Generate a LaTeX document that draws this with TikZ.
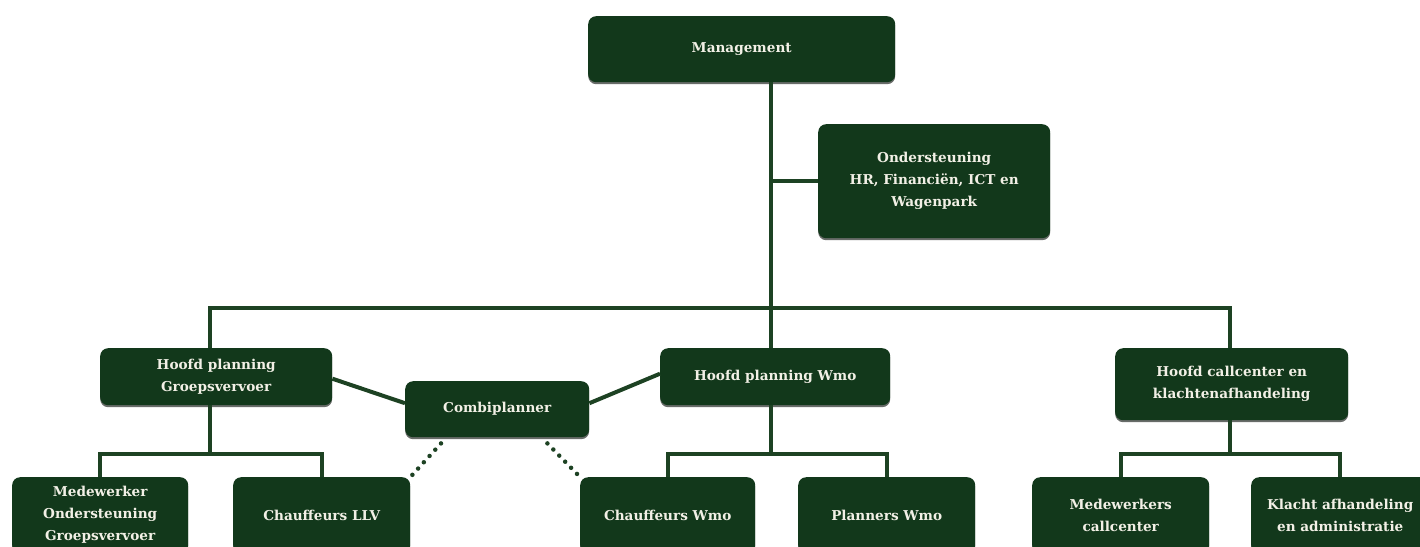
\documentclass[tikz,border=0pt]{standalone}
\usepackage{fontspec}
\setmainfont{DejaVu Serif}
\usetikzlibrary{shadows}
\definecolor{boxgreen}{HTML}{12381B}
\definecolor{linegreen}{HTML}{1D4223}
\definecolor{txt}{HTML}{F2F0E6}
\begin{document}
\begin{tikzpicture}[x=1pt,y=-1pt,
  box/.style={rounded corners=8pt, fill=boxgreen, text=txt,
    font=\bfseries\fontsize{13.6}{22}\selectfont, align=center, inner sep=0pt,
    anchor=north west,
    drop shadow={shadow xshift=0pt, shadow yshift=-2pt, opacity=0.6, fill=black!80!boxgreen}},
  link/.style={draw=linegreen, line width=4pt},
  dots/.style={draw=linegreen, line width=4.5pt, line cap=round, dash pattern=on 0pt off 8.5pt}]
\fill[white] (0,0) rectangle (1420,546);
\useasboundingbox (0,0) rectangle (1420,546);
\clip (0,0) rectangle (1420,546);

% junction coordinates
\coordinate (j0) at (771,308);
\coordinate (jl) at (210,308);
\coordinate (jr) at (1230,308);
\coordinate (sl) at (210,454);
\coordinate (sm) at (771,454);
\coordinate (sr) at (1230,454);

% nodes
\node[box, minimum width=307pt, minimum height=66pt] (mgmt) at (588,16) {Management};
\node[box, minimum width=232pt, minimum height=114pt] (ond) at (818,124) {Ondersteuning\\HR, Financiën, ICT en\\Wagenpark};
\node[box, minimum width=232pt, minimum height=57pt] (hpg) at (100,348) {Hoofd planning\\Groepsvervoer};
\node[box, minimum width=184pt, minimum height=56pt] (comb) at (405,381) {Combiplanner};
\node[box, minimum width=230pt, minimum height=57pt] (hwmo) at (660,348) {Hoofd planning Wmo};
\node[box, minimum width=233pt, minimum height=72pt] (hcc) at (1115,348) {Hoofd callcenter en\\klachtenafhandeling};
\node[box, minimum width=176pt, minimum height=76pt] (med) at (12,477) {Medewerker\\Ondersteuning\\Groepsvervoer};
\node[box, minimum width=177pt, minimum height=76pt] (llv) at (233,477) {Chauffeurs LLV};
\node[box, minimum width=175pt, minimum height=76pt] (cwmo) at (580,477) {Chauffeurs Wmo};
\node[box, minimum width=177pt, minimum height=76pt] (pwmo) at (798,477) {Planners Wmo};
\node[box, minimum width=177pt, minimum height=76pt] (mcc) at (1032,477) {Medewerkers\\callcenter};
\node[box, minimum width=178pt, minimum height=76pt] (kla) at (1251,477) {Klacht afhandeling\\en administratie};

% connectors
\draw[link] (j0 |- mgmt.south) -- (j0);
\draw[link] (j0 |- ond.west) -- (ond.west);
\draw[link] (jl |- hpg.north) -- (jl) -- (jr) -- (jr |- hcc.north);
\draw[link] (j0) -- (j0 |- hwmo.north);
\draw[link] (sl |- hpg.south) -- (sl);
\draw[link] (med.north) |- (sl) -| (llv.north);
\draw[link] (sm |- hwmo.south) -- (sm);
\draw[link] (cwmo.north) |- (sm) -| (pwmo.north);
\draw[link] (sr |- hcc.south) -- (sr);
\draw[link] (mcc.north) |- (sr) -| (kla.north);
\draw[link] ([yshift=-2pt]hpg.east) -- ([yshift=6pt]comb.west);
\draw[link] ([yshift=6pt]comb.east) -- ([yshift=3pt]hwmo.west);
\draw[dots] ([xshift=36pt,yshift=-6pt]comb.south west) -- (llv.north east);
\draw[dots] ([xshift=-42pt,yshift=-6pt]comb.south east) -- (cwmo.north west);
\end{tikzpicture}
\end{document}
